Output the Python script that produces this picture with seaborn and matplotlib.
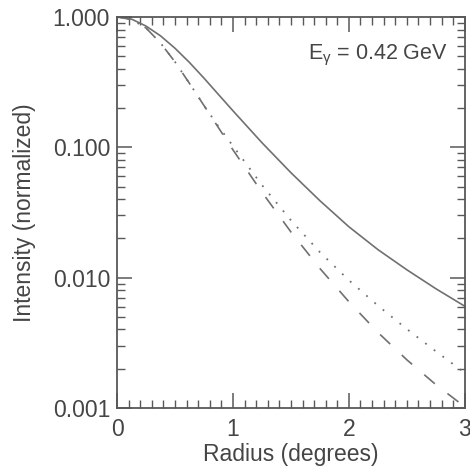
import numpy as np
import pandas as pd
import matplotlib
matplotlib.use("Agg")
import matplotlib.pyplot as plt
import matplotlib.ticker as mticker
import seaborn as sns

# ---- data ----
radius = [0.0, 0.125, 0.25, 0.375, 0.5, 0.625, 0.75, 0.875, 1.0,
          1.25, 1.5, 1.75, 2.0, 2.25, 2.5, 2.75, 3.0]
solid_vals = [1.0, 0.962, 0.851, 0.716, 0.575, 0.447, 0.339, 0.254, 0.1905,
              0.1084, 0.0638, 0.0389, 0.02455, 0.01641, 0.01148, 0.00822, 0.00603]
dashed_vals = [1.0, 0.955, 0.822, 0.631, 0.452, 0.309, 0.209, 0.1413, 0.0955,
               0.0452, 0.0224, 0.01175, 0.00653, 0.0038, 0.00234, 0.00151, 0.00102]
dotted_vals = [1.0, 0.955, 0.822, 0.631, 0.452, 0.309, 0.209, 0.1445, 0.1023,
               0.0513, 0.0275, 0.01567, 0.00955, 0.0061, 0.00403, 0.00272, 0.00186]
y_ticks = [0.001, 0.01, 0.1, 1.0]
y_tick_labels = ["0.001", "0.010", "0.100", "1.000"]
x_ticks = [0, 1, 2, 3]
x_tick_labels = ["0", "1", "2", "3"]
annotation = r"E$_{\gamma}$ = 0.42 GeV"
x_label = "Radius (degrees)"
y_label = "Intensity (normalized)"

sns.set_style("ticks")
plt.rcParams["font.family"] = ["Liberation Sans", "DejaVu Sans"]
plt.rcParams["mathtext.fontset"] = "custom"
plt.rcParams["mathtext.rm"] = "Liberation Sans"
plt.rcParams["mathtext.it"] = "Liberation Sans"
plt.rcParams["lines.scale_dashes"] = False

text_col = "#454545"
line_col = "#707070"
spine_col = "#585858"

df = pd.DataFrame({"radius": radius, "solid": solid_vals,
                   "dashed": dashed_vals, "dotted": dotted_vals})

fig = plt.figure(figsize=(4.7, 4.7), dpi=100)
ax = fig.add_axes([0.249, 0.132, 0.740, 0.832])

sns.lineplot(data=df, x="radius", y="solid", ax=ax, color=line_col, lw=1.2)
sns.lineplot(data=df, x="radius", y="dashed", ax=ax, color=line_col, lw=1.2)
sns.lineplot(data=df, x="radius", y="dotted", ax=ax, color=line_col, lw=1.3)
lines = ax.get_lines()
lines[1].set_dashes([10, 11.5])
lines[2].set_dashes([1.3, 6.5])

ax.set_yscale("log")
ax.set_xlim(0, 3)
ax.set_ylim(0.001, 1.0)

ax.set_xticks(x_ticks)
ax.set_xticklabels(x_tick_labels)
ax.xaxis.set_minor_locator(mticker.MultipleLocator(0.1))
ax.set_yticks(y_ticks)
ax.set_yticklabels(y_tick_labels)
ax.yaxis.set_minor_locator(mticker.LogLocator(base=10, subs=np.arange(2, 10)))
ax.yaxis.set_minor_formatter(mticker.NullFormatter())

ax.tick_params(which="both", direction="in", top=True, right=True,
               colors=spine_col, labelcolor=text_col, labelsize=16.5)
ax.tick_params(which="major", length=11, width=1.1)
ax.tick_params(which="minor", length=5.5, width=1.0)
ax.tick_params(axis="x", which="major", pad=7)
ax.tick_params(axis="y", which="major", pad=5)

for s in ax.spines.values():
    s.set_color(spine_col)
    s.set_linewidth(1.3)
    s.set_visible(True)

ax.set_xlabel(x_label, fontsize=16.5, color=text_col, labelpad=2)
ax.set_ylabel(y_label, fontsize=16.5, color=text_col, labelpad=12)

ax.text(0.952, 0.934, annotation, transform=ax.transAxes, ha="right", va="top",
        fontsize=15.5, color=text_col)

fig.savefig("out.png", dpi=100)
